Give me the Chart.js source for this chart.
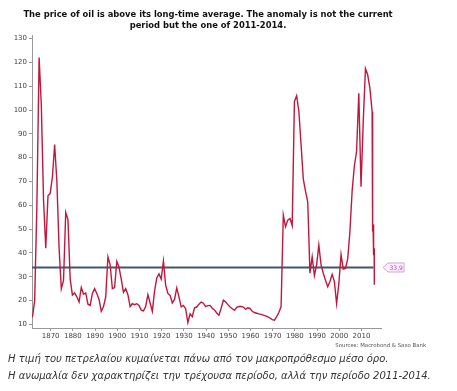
<!DOCTYPE html>
<html>
<head>
<meta charset="utf-8">
<script src="https://cdn.jsdelivr.net/npm/chart.js@4.4.1/dist/chart.umd.min.js"></script>
<style>
    body { margin: 0; background: #fff; }
    #wrap { position: relative; width: 457px; height: 391px; overflow: hidden; }
    #title { position: absolute; left: 0; top: 9px; width: 416px; text-align: center;
             font: bold 8.4px "DejaVu Sans"; line-height: 10.5px; color: #111; }
    #box { position: absolute; left: 0; top: 0; width: 457px; height: 352px; }
    #sources { position: absolute; right: 31px; top: 342px; font: 5.4px "DejaVu Sans"; color: #555; }
    #note { position: absolute; left: 8px; top: 350px; font: italic 10px "DejaVu Sans";
            line-height: 17px; color: #333; white-space: nowrap; }
</style>
</head>
<body>
<div id="wrap">
    <div id="box"><canvas id="chart" width="457" height="352"></canvas></div>
    <div id="title">The price of oil is above its long-time average. The anomaly is not the current<br>period but the one of 2011-2014.</div>
    <div id="sources">Sources: Macrobond &amp; Saxo Bank</div>
    <div id="note">Η τιμή του πετρελαίου κυμαίνεται πάνω από τον μακροπρόθεσμο μέσο όρο.<br>Η ανωμαλία δεν χαρακτηρίζει την τρέχουσα περίοδο, αλλά την περίοδο 2011-2014.</div>
</div>
<script>
// annual oil price (real USD), 1861 .. 2014
const firstYear = 1861;
const prices = [
    13, 20, 60, 122, 102, 62, 42, 64, 65, 72,
    85.5, 70, 42, 25, 28.5, 57, 54, 29, 22.3, 23.2,
    21.6, 19.4, 25.5, 22.7, 23.2, 18.5, 18, 23, 25, 23,
    20.5, 15.5, 17.5, 21.5, 38.4, 35, 25, 25.5, 36.5, 34,
    29, 23.5, 25, 22.5, 17.5, 18.7, 18.3, 18.7, 18, 16,
    15.7, 17.5, 22.5, 19, 15.5, 24, 29.5, 31.2, 29, 36.6,
    26.5, 23, 22.2, 19, 20.5, 25.3, 21.6, 17.4, 18, 16.6,
    10.8, 14.5, 13.3, 17, 17.3, 18.5, 19.4, 18.9, 17.5, 17.9,
    18, 16.8, 16.1, 14.8, 13.9, 16.8, 20.2, 19.5, 18.3, 17.3,
    16.6, 15.9, 17.2, 17.5, 17.5, 17.3, 16.3, 17, 16.7, 15.5,
    15, 14.7, 14.4, 14.2, 13.9, 13.6, 13.2, 12.7, 12, 11.8,
    13.3, 15, 17.5, 55.9, 51, 53.8, 54.5, 51.5, 103.6, 106,
    99.5, 85.4, 71, 66, 61.5, 31.5, 38.4, 30.5, 35, 43.3,
    35, 31.5, 28.5, 25.8, 28, 31, 28, 18.7, 27, 39.4,
    33.2, 33.5, 37.5, 49, 66, 76.5, 82.6, 107, 67.8, 95.2,
    117.4, 114.8, 109.2, 99.4
];
// monthly readings at the end of the series
const tailYears = [2014.12, 2014.22, 2014.32, 2014.42, 2014.52, 2014.62, 2014.72, 2014.82, 2014.92, 2015.0];
const tailPrices = [61.5, 57, 49, 52, 47, 44, 46, 39, 42, 26.7];

const avgValue = 33.9;
const avgSpan = [1861.6, 2015.4];
const avgLabel = '33,9';

const xTicks = [1870, 1880, 1890, 1900, 1910, 1920, 1930, 1940, 1950, 1960, 1970, 1980, 1990, 2000, 2010];
const yTicks = [10, 20, 30, 40, 50, 60, 70, 80, 90, 100, 110, 120, 130];

const yearShift = 0.8; // annual averages sit near the end of their year

const priceData = prices.map((v, i) => ({ x: firstYear + i + yearShift, y: v }))
    .concat(tailYears.map((t, i) => ({ x: t + yearShift, y: tailPrices[i] })));

const avg_tag = {
    id: 'avg_tag',
    afterDatasetsDraw(c) {
        const g = c.ctx;
        const y = c.scales.y.getPixelForValue(avgValue);
        const x0 = c.chartArea.right + 2;
        g.save();
        g.beginPath();
        g.moveTo(x0, y);
        g.lineTo(x0 + 5, y - 4.5);
        g.lineTo(x0 + 21, y - 4.5);
        g.lineTo(x0 + 21, y + 4.5);
        g.lineTo(x0 + 5, y + 4.5);
        g.closePath();
        g.fillStyle = '#fdf2fc';
        g.fill();
        g.strokeStyle = '#cfa3dc';
        g.lineWidth = 1;
        g.stroke();
        g.fillStyle = '#c83ac8';
        g.font = '6px "DejaVu Sans"';
        g.textBaseline = 'middle';
        g.fillText(avgLabel, x0 + 6.5, y + 0.5);
        g.restore();
    }
};

let chart;

const init_graph = () => {
    const ctx = document.getElementById('chart').getContext('2d');

    chart = new Chart(ctx, {
        type: 'line',
        data: {
            datasets: [
                {
                    data: priceData,
                    borderColor: '#c2173d',
                    borderWidth: 1.4,
                    pointRadius: 0,
                    tension: 0,
                    order: 0,
                },
                {
                    data: [{ x: avgSpan[0], y: avgValue }, { x: avgSpan[1], y: avgValue }],
                    borderColor: '#3f5968',
                    borderWidth: 2,
                    pointRadius: 0,
                    order: 1,
                },
            ],
        },
        options: {
            responsive: false,
            animation: false,
            layout: { padding: { top: 35, right: 76, left: 0, bottom: 10 } },
            scales: {
                x: {
                    type: 'linear',
                    min: 1861.6,
                    max: 2018.8,
                    afterBuildTicks: s => { s.ticks = xTicks.map(v => ({ value: v })); },
                    afterFit: s => { s.height = 14; },
                    ticks: {
                        autoSkip: false,
                        maxRotation: 0,
                        padding: 1,
                        color: '#444',
                        font: { family: 'DejaVu Sans', size: 7 },
                        callback: v => String(v),
                    },
                    grid: { drawOnChartArea: false, tickLength: 3, color: '#999' },
                    border: { color: '#999' },
                },
                y: {
                    min: 8.5,
                    max: 131.5,
                    afterBuildTicks: s => { s.ticks = yTicks.map(v => ({ value: v })); },
                    afterFit: s => { s.width = 32; },
                    ticks: {
                        padding: 2,
                        color: '#444',
                        font: { family: 'DejaVu Sans', size: 7 },
                        callback: v => String(v),
                    },
                    grid: { drawOnChartArea: false, tickLength: 3, color: '#999' },
                    border: { color: '#999' },
                },
            },
            plugins: {
                legend: { display: false },
                tooltip: { enabled: false },
            },
        },
        plugins: [avg_tag],
    });
};

init_graph();
</script>
</body>
</html>
